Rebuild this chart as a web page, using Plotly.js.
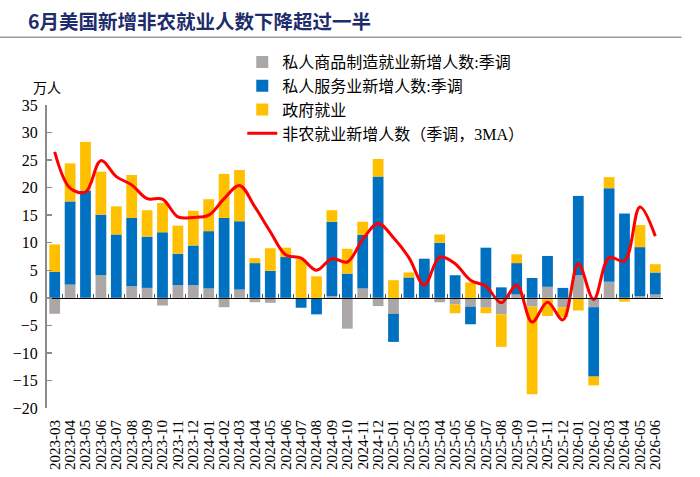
<!DOCTYPE html>
<html>
<head>
<meta charset="utf-8">
<script src="https://cdn.plot.ly/plotly-3.0.1.min.js"></script>
<style>
  body { margin: 0; background: #fff; }
  #chart { width: 700px; height: 477px; }
</style>
</head>
<body>
<div id="chart"></div>
<script>
// 月份
var months = [
    '2023-03', '2023-04', '2023-05', '2023-06', '2023-07', '2023-08', '2023-09', '2023-10', '2023-11', '2023-12',
    '2024-01', '2024-02', '2024-03', '2024-04', '2024-05', '2024-06', '2024-07', '2024-08', '2024-09', '2024-10',
    '2024-11', '2024-12', '2025-01', '2025-02', '2025-03', '2025-04', '2025-05', '2025-06', '2025-07', '2025-08',
    '2025-09', '2025-10', '2025-11', '2025-12', '2026-01', '2026-02', '2026-03', '2026-04', '2026-05', '2026-06'
];

// 万人
var goods = [
    -2.9, 2.4, 0, 4.1, 0, 2.1, 1.8, -1.4, 2.3, 2.3,
    1.7, -1.7, 1.5, -0.8, -0.9, 0, 0, 0, 0.3, -5.6,
    1.7, -1.5, -2.9, 0, 0, -0.8, -1.2, -1.6, -1.8, -3.0,
    0.6, -1.6, 2.0, -1.7, 4.1, -1.7, 2.9, 0, 0.3, 0.6
];

var services = [
    4.7, 15.1, 19.5, 11.0, 11.5, 12.4, 9.3, 11.9, 5.7, 7.2,
    10.4, 14.5, 12.4, 6.3, 4.9, 7.4, -1.8, -3.0, 13.5, 4.4,
    9.7, 22.0, -5.1, 3.7, 7.1, 10.0, 4.1, -3.2, 9.1, 1.9,
    5.7, 3.6, 5.6, 1.8, 14.4, -12.6, 17.0, 15.3, 8.9, 4.0
];

var government = [
    5.0, 6.9, 8.8, 7.8, 5.1, 7.8, 4.8, 5.3, 5.1, 6.3,
    5.8, 8.0, 9.3, 0.9, 4.1, 1.7, 7.0, 3.9, 2.1, 4.5,
    2.4, 3.2, 3.2, 0.9, 0, 1.5, -1.6, 2.8, -1.0, -5.9,
    1.6, -15.9, -3.3, -1.8, -2.3, -1.6, 2.0, -0.7, 4.0, 1.5
];

var payrollsMA3 = [
    26.5, 19.9, 19.2, 24.9, 22.0, 20.5, 18.0, 17.9, 14.7, 14.6,
    15.0, 18.0, 20.4, 16.5, 12.0, 7.8, 7.2, 5.0, 7.1, 6.5,
    10.6, 13.5, 10.9, 7.3, 2.3, 7.4, 6.2, 3.2, 2.1, -0.9,
    2.3, -4.4, -0.8, -4.0, 6.2, -0.3, 7.3, 6.7, 16.5, 11.2
];

var serif = 'Liberation Serif, Noto Sans CJK SC, serif';

var traceGoods = {
    type: 'bar',
    x: months,
    y: goods,
    name: '私人商品制造就业新增人数:季调',
    marker: { color: '#ABA7A7' }
};

var traceServices = {
    type: 'bar',
    x: months,
    y: services,
    name: '私人服务业新增人数:季调',
    marker: { color: '#0070C0' }
};

var traceGov = {
    type: 'bar',
    x: months,
    y: government,
    name: '政府就业',
    marker: { color: '#FFC000' }
};

var traceMA = {
    type: 'scatter',
    mode: 'lines',
    x: months,
    y: payrollsMA3,
    xaxis: 'x2',
    name: '非农就业新增人数（季调，3MA）',
    line: { color: '#FF0000', width: 3, shape: 'spline', smoothing: 1 }
};

var data = [traceGoods, traceServices, traceGov, traceMA];

var yMin = -20, yMax = 35;

var layout = {
    width: 700,
    height: 477,
    margin: { l: 47, r: 37, t: 105, b: 69 },
    paper_bgcolor: '#fff',
    plot_bgcolor: '#fff',
    barmode: 'relative',
    bargap: 0.3,
    showlegend: true,
    title: {
        text: '<b>6月美国新增非农就业人数下降超过一半</b>',
        xref: 'container', yref: 'container',
        x: 28 / 700, xanchor: 'left',
        y: 1 - 22 / 477, yanchor: 'middle',
        font: { family: 'Noto Sans CJK SC', size: 19.5, color: '#1F2C6B' }
    },
    legend: {
        x: 0.317, xanchor: 'left',
        y: 1.198, yanchor: 'top',
        traceorder: 'normal',
        bgcolor: 'rgba(0,0,0,0)',
        font: { family: serif, size: 16, color: '#000' },
        tracegroupgap: 0
    },
    xaxis: {
        type: 'category',
        range: [-0.5, months.length - 0.5],
        tickmode: 'linear', dtick: 1,
        tickangle: -90,
        ticks: '',
        showline: false,
        showgrid: false,
        zeroline: false,
        ticklabelstandoff: 8,
        tickfont: { family: serif, size: 15, color: '#000' }
    },
    xaxis2: {
        type: 'category',
        overlaying: 'x',
        anchor: 'free',
        position: (0 - yMin) / (yMax - yMin),
        range: [-0.5, months.length - 0.5],
        showline: true, linecolor: '#000', linewidth: 1,
        ticks: 'inside', tickson: 'boundaries', ticklen: 4, tickcolor: '#555', tickwidth: 1,
        showticklabels: false,
        showgrid: false,
        zeroline: false
    },
    yaxis: {
        range: [yMin, yMax],
        tickmode: 'linear', dtick: 5,
        showline: true, linecolor: '#8C8C8C', linewidth: 2,
        ticks: 'inside', ticklen: 5, tickcolor: '#8C8C8C', tickwidth: 1.5,
        showgrid: false,
        zeroline: false,
        ticklabelstandoff: 4,
        tickfont: { family: serif, size: 16, color: '#000' }
    },
    shapes: [{
        type: 'line', xref: 'paper', yref: 'paper',
        x0: -0.08, x1: 1.03, y0: 1.224, y1: 1.224,
        line: { color: '#999', width: 1.5 }
    }],
    annotations: [{
        text: '万人',
        xref: 'paper', yref: 'paper',
        x: -0.026, y: 1.099,
        showarrow: false,
        font: { family: 'Noto Sans CJK SC', size: 14, color: '#000' }
    }]
};

Plotly.newPlot('chart', data, layout, { displayModeBar: false, staticPlot: true });
</script>
</body>
</html>
